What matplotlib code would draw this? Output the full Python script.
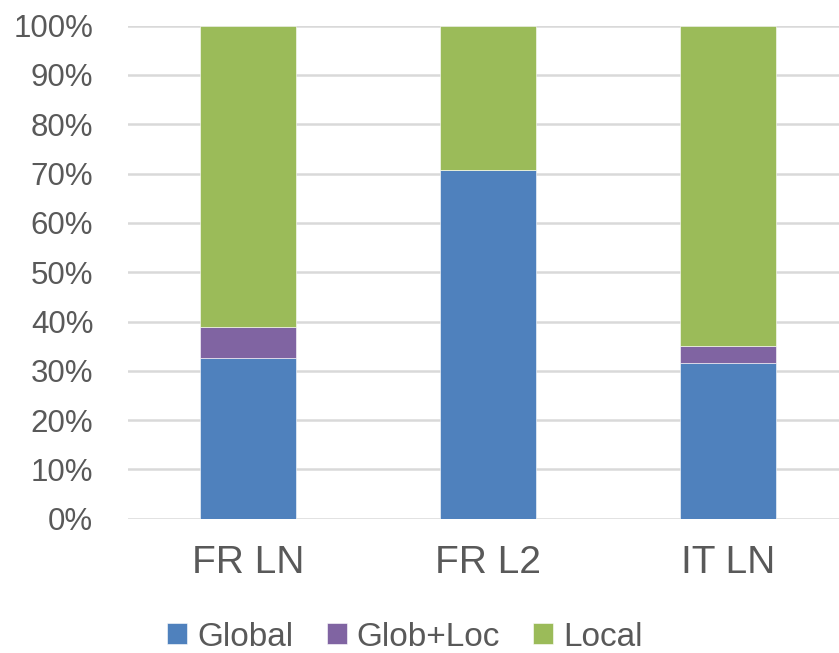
import matplotlib
matplotlib.use("Agg")
import matplotlib.pyplot as plt
import numpy as np

categories = ["FR LN", "FR L2", "IT LN"]
global_vals = [32.5, 70.7, 31.5]
globloc_vals = [6.4, 0.0, 3.6]
local_vals = [61.1, 29.3, 64.9]
series_names = ["Global", "Glob+Loc", "Local"]
colors = ["#4F81BD", "#8064A2", "#9BBB59"]

plt.rcParams['font.family'] = ['Liberation Sans', 'DejaVu Sans']
text_color = "#595959"

fig = plt.figure(figsize=(8.39, 6.53), dpi=100)
W, H = 839, 653
left, right = 128 / W, 848 / W
bottom, top = (H - 518.7) / H, (H - 25.7) / H
ax = fig.add_axes([left, bottom, right - left, top - bottom])

x = np.arange(len(categories))
bw = 0.4
g = np.array(global_vals)
gl = np.array(globloc_vals)
lo = np.array(local_vals)
ax.bar(x, g, bw, color=colors[0], label=series_names[0], edgecolor="white", linewidth=0.4, zorder=3)
ax.bar(x, gl, bw, bottom=g, color=colors[1], label=series_names[1], edgecolor="white", linewidth=0.4, zorder=3)
ax.bar(x, lo, bw, bottom=g + gl, color=colors[2], label=series_names[2], edgecolor="white", linewidth=0.4, zorder=3)

ax.set_xlim(-0.5, 2.5)
ax.set_ylim(0, 100)
yt = np.arange(0, 101, 10)
ax.set_yticks(yt)
ax.set_yticklabels([f"{v}%" for v in yt])
ax.set_xticks(x)
ax.set_xticklabels(categories)
ax.tick_params(axis='y', length=0, pad=25, labelsize=22.5, labelcolor=text_color)
ax.tick_params(axis='x', length=0, pad=19, labelsize=28, labelcolor=text_color)
for s in ax.spines.values():
    s.set_visible(False)
ax.yaxis.grid(True, color="#D9D9D9", linewidth=1.8, zorder=0)
ax.set_axisbelow(True)

leg = fig.legend(loc="center", bbox_to_anchor=(405 / W, 16 / H), ncol=3, frameon=False,
                 fontsize=24, handlelength=0.6, handleheight=0.6, handletextpad=0.3,
                 columnspacing=1.0, borderpad=0, borderaxespad=0)
for t in leg.get_texts():
    t.set_color(text_color)

fig.savefig("out.png", dpi=100)
